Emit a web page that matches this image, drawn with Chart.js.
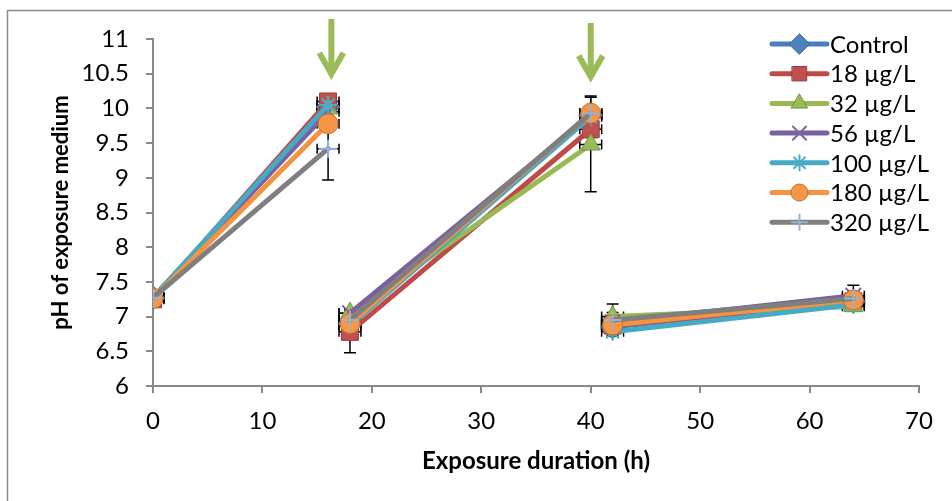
<!DOCTYPE html>
<html>
<head>
<meta charset="utf-8">
<script src="https://cdn.jsdelivr.net/npm/chart.js@4.4.1/dist/chart.umd.min.js"></script>
<style>
  html, body { margin: 0; padding: 0; background: #ffffff; }
  #wrap { width: 952px; height: 501px; position: relative; }
</style>
</head>
<body>
<div id="wrap"><canvas id="c" width="952" height="501"></canvas></div>
<script>
// ---- Data ----
const hours = [0, 16, 18, 40, 42, 64];
const breakAfter = [16, 40];           // no line drawn from these hours to the next point
const seriesNames = ['Control', '18 µg/L', '32 µg/L', '56 µg/L', '100 µg/L', '180 µg/L', '320 µg/L'];

const phControl = [7.27, 10.02, 6.90, 9.90, 6.85, 7.22];
const ph18      = [7.25, 10.10, 6.78, 9.70, 6.87, 7.22];
const ph32      = [7.28, 10.00, 7.05, 9.48, 7.00, 7.15];
const ph56      = [7.27,  9.95, 7.05, 9.90, 6.92, 7.30];
const ph100     = [7.27, 10.05, 6.87, 9.88, 6.78, 7.17];
const ph180     = [7.26,  9.78, 6.90, 9.93, 6.88, 7.24];
const ph320     = [7.27,  9.42, 6.95, 9.93, 6.95, 7.26];

const errControl = [0.05, 0.06, 0.06, 0.06, 0.06, 0.05];
const err18      = [0.05, 0.10, 0.30, 0.12, 0.08, 0.05];
const err32      = [0.05, 0.06, 0.06, 0.68, 0.06, 0.05];
const err56      = [0.05, 0.06, 0.06, 0.06, 0.06, 0.15];
const err100     = [0.05, 0.06, 0.06, 0.06, 0.06, 0.05];
const err180     = [0.05, 0.06, 0.06, 0.06, 0.06, 0.06];
const err320     = [0.05, 0.45, 0.06, 0.25, 0.23, 0.10];
const xErr = 1;   // hours, horizontal error bars

const yTicksMin = 6, yTicksMax = 11, yStep = 0.5;
const xTicksMin = 0, xTicksMax = 70, xStep = 10;

const arrowHours = [16.3, 40];
const arrowTails = [11.29, 11.23];
const arrowTips  = [10.44, 10.40];

// ---- Styles ----
const FONT = 'Lato, "Open Sans", sans-serif';
const lineColors  = ['#4A7EBB', '#BE4B48', '#98B954', '#7D60A0', '#46AAC5', '#F69240', '#7F7F7F'];
const fillColors  = ['#4F81BD', '#C0504D', '#9BBB59', '#8064A2', '#4BACC6', '#F79646', '#95B3D7'];
const edgeColors  = ['#3A6599', '#9B3B38', '#76923C', '#8064A2', '#4BACC6', '#C0712F', '#95B3D7'];
const pStyles     = ['rectRot', 'rect', 'triangle', 'crossRot', 'star', 'circle', 'cross'];
const pRadius     = [12, 12, 11, 11, 9, 10, 9];
const pBorderW    = [1, 1, 1, 2, 2, 1, 2];

const allPh  = [phControl, ph18, ph32, ph56, ph100, ph180, ph320];
const allErr = [errControl, err18, err32, err56, err100, err180, err320];

const datasets = seriesNames.map((name, i) => ({
  label: name,
  data: hours.map((h, j) => ({ x: h, y: allPh[i][j] })),
  errors: allErr[i],
  borderColor: lineColors[i],
  backgroundColor: fillColors[i],
  borderWidth: 5,
  borderCapStyle: 'round',
  pointStyle: pStyles[i],
  pointRadius: pRadius[i],
  pointHoverRadius: pRadius[i],
  pointBackgroundColor: fillColors[i],
  pointBorderColor: edgeColors[i],
  pointBorderWidth: pBorderW[i],
  tension: 0,
  fill: false,
  order: seriesNames.length - i,
  segment: {
    borderColor: ctx => breakAfter.includes(ctx.p0.parsed.x) ? 'rgba(0,0,0,0)' : undefined
  }
}));

// Error bars, drawn beneath the series and clipped to the plot area
const errorBars = {
  id: 'errorBars',
  beforeDatasetsDraw(chart) {
    const xs = chart.scales.x, ys = chart.scales.y;
    const ctx = chart.ctx;
    const a = chart.chartArea;
    ctx.save();
    ctx.beginPath();
    ctx.rect(a.left + 1, a.top - 20, a.right - a.left, a.bottom - a.top + 20);
    ctx.clip();
    ctx.strokeStyle = '#000000';
    ctx.lineWidth = 1.5;
    const cap = 6;
    chart.data.datasets.forEach(ds => {
      ds.data.forEach((p, j) => {
        const e = ds.errors[j];
        const px = xs.getPixelForValue(p.x);
        const py = ys.getPixelForValue(p.y);
        const top = ys.getPixelForValue(p.y + e);
        const bot = ys.getPixelForValue(p.y - e);
        const l = xs.getPixelForValue(p.x - xErr);
        const r = xs.getPixelForValue(p.x + xErr);
        ctx.beginPath();
        ctx.moveTo(px, top); ctx.lineTo(px, bot);
        ctx.moveTo(px - cap, top); ctx.lineTo(px + cap, top);
        ctx.moveTo(px - cap, bot); ctx.lineTo(px + cap, bot);
        ctx.moveTo(l, py); ctx.lineTo(r, py);
        ctx.moveTo(l, py - 5); ctx.lineTo(l, py + 5);
        ctx.moveTo(r, py - 5); ctx.lineTo(r, py + 5);
        ctx.stroke();
      });
    });
    ctx.restore();
  }
};

const frameAndArrows = {
  id: 'frameAndArrows',
  beforeDraw(chart) {
    const ctx = chart.ctx;
    ctx.save();
    ctx.fillStyle = '#ffffff';
    ctx.fillRect(0, 0, chart.width, chart.height);
    ctx.strokeStyle = '#8a8a8a';
    ctx.lineWidth = 1.5;
    ctx.strokeRect(7.5, 10.5, chart.width + 20, chart.height + 20);
    ctx.restore();
  },
  afterDraw(chart) {
    const ctx = chart.ctx;
    const xs = chart.scales.x, ys = chart.scales.y;
    ctx.save();
    // arrows
    ctx.strokeStyle = '#9BBB59';
    ctx.lineWidth = 6;
    ctx.lineJoin = 'miter';
    ctx.lineCap = 'butt';
    arrowHours.forEach((h, k) => {
      const x = xs.getPixelForValue(h);
      const y0 = ys.getPixelForValue(arrowTails[k]);
      const y1 = ys.getPixelForValue(arrowTips[k]);
      ctx.beginPath();
      ctx.moveTo(x, y0); ctx.lineTo(x, y1 - 4);
      ctx.stroke();
      ctx.beginPath();
      ctx.moveTo(x - 12, y1 - 25); ctx.lineTo(x, y1 - 4); ctx.lineTo(x + 12, y1 - 25);
      ctx.stroke();
    });
    // legend
    const lx0 = chart.chartArea.right - 147, lx1 = chart.chartArea.right - 92;
    const mx = (lx0 + lx1) / 2, tx = lx1 + 3;
    const ly0 = chart.chartArea.top + 5, dy = 29.7;
    ctx.font = '24px ' + FONT;
    ctx.textBaseline = 'middle';
    ctx.textAlign = 'left';
    datasets.forEach((ds, i) => {
      const y = ly0 + i * dy;
      ctx.strokeStyle = lineColors[i];
      ctx.lineWidth = 5;
      ctx.lineCap = 'round';
      ctx.beginPath(); ctx.moveTo(lx0, y); ctx.lineTo(lx1, y); ctx.stroke();
      ctx.fillStyle = fillColors[i];
      ctx.strokeStyle = edgeColors[i];
      ctx.lineWidth = pBorderW[i];
      Chart.helpers.drawPoint(ctx, { pointStyle: pStyles[i], radius: pRadius[i] * 0.85, rotation: 0, borderWidth: pBorderW[i] }, mx, y);
      ctx.fillStyle = '#000000';
      ctx.fillText(ds.label, tx, y + 1);
    });
    ctx.restore();
  }
};

new Chart(document.getElementById('c'), {
  type: 'line',
  data: { datasets },
  plugins: [errorBars, frameAndArrows],
  options: {
    responsive: false,
    animation: false,
    events: [],
    layout: { padding: { top: 39, right: 33, bottom: 0, left: 0 } },
    plugins: { legend: { display: false }, tooltip: { enabled: false } },
    scales: {
      x: {
        type: 'linear',
        min: xTicksMin, max: xTicksMax,
        afterFit: s => { s.height = 115; },
        ticks: { stepSize: xStep, color: '#000000', font: { family: FONT, size: 24 }, padding: 14, maxRotation: 0,
                 callback: v => String(v) },
        grid: { display: true, drawOnChartArea: false, drawTicks: true, tickLength: 7, color: '#8a8a8a', lineWidth: 2 },
        border: { display: true, color: '#8a8a8a', width: 2 },
        title: { display: true, text: 'Exposure duration (h)', color: '#000000', font: { family: FONT, size: 24, weight: 'bold' }, padding: { top: 0, bottom: 25 } }
      },
      y: {
        type: 'linear',
        min: yTicksMin, max: yTicksMax,
        afterFit: s => { s.width = 153; },
        ticks: { stepSize: yStep, color: '#000000', font: { family: FONT, size: 24 }, padding: 17,
                 callback: v => String(v) },
        grid: { display: true, drawOnChartArea: false, drawTicks: true, tickLength: 7, color: '#8a8a8a', lineWidth: 2 },
        border: { display: true, color: '#8a8a8a', width: 2 },
        title: { display: true, text: 'pH of exposure medium', color: '#000000', font: { family: FONT, size: 22, weight: 'bold' }, padding: { top: 48, bottom: 0 } }
      }
    }
  }
});
</script>
</body>
</html>
